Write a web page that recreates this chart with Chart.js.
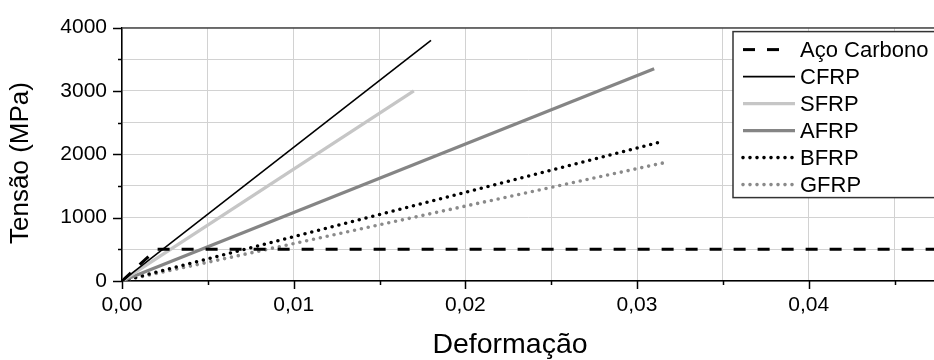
<!DOCTYPE html>
<html>
<head>
<meta charset="utf-8">
<script src="https://cdn.jsdelivr.net/npm/chart.js@4"></script>
<style>
  html, body { margin: 0; padding: 0; background: #fff; overflow: hidden; }
  #wrap { width: 934px; height: 360px; }
</style>
</head>
<body>
<div id="wrap"><canvas id="grafico" width="934" height="360"></canvas></div>
<script>
// valores (deformação x tensão em MPa)
const acoDef = [0, 0.002, 0.048];
const acoTen = [0, 500, 500];
const cfrpDef = [0, 0.018];
const cfrpTen = [0, 3800];
const sfrpDef = [0, 0.017];
const sfrpTen = [0, 3000];
const afrpDef = [0, 0.031];
const afrpTen = [0, 3350];
const bfrpDef = [0, 0.0313];
const bfrpTen = [0, 2190];
const gfrpDef = [0, 0.0318];
const gfrpTen = [0, 1880];

const ticksX = [0, 0.005, 0.01, 0.015, 0.02, 0.025, 0.03, 0.035, 0.04, 0.045];
const ticksY = [0, 500, 1000, 1500, 2000, 2500, 3000, 3500, 4000];

const FONTE = '"Liberation Sans", Arial, sans-serif';

function pontos(xs, ys) {
  return xs.map((x, i) => ({ x: x, y: ys[i] }));
}

function ehMaiorX(v) { return Math.abs(v * 100 - Math.round(v * 100)) < 1e-9; }
function ehMaiorY(v) { return v % 1000 === 0; }

// marcas dos eixos (maiores e menores), moldura superior e títulos
const eixosPlugin = {
  id: 'eixos',
  afterDraw(chart) {
    const ctx = chart.ctx;
    const area = chart.chartArea;
    const sx = chart.scales.x, sy = chart.scales.y;
    ctx.save();
    ctx.strokeStyle = '#000';
    ctx.lineWidth = 1.5;
    ticksX.forEach(v => {
      const px = Math.round(sx.getPixelForValue(v)) + 0.5;
      const len = ehMaiorX(v) ? 8 : 4;
      ctx.beginPath();
      ctx.moveTo(px, area.bottom);
      ctx.lineTo(px, area.bottom + len);
      ctx.stroke();
    });
    ticksY.forEach(v => {
      const py = Math.round(sy.getPixelForValue(v)) + 0.5;
      const len = ehMaiorY(v) ? 9 : 4;
      ctx.beginPath();
      ctx.moveTo(area.left, py);
      ctx.lineTo(area.left - len, py);
      ctx.stroke();
    });
    // linha superior
    ctx.strokeStyle = '#444';
    ctx.beginPath();
    ctx.moveTo(area.left, area.top + 0.5);
    ctx.lineTo(area.right, area.top + 0.5);
    ctx.stroke();

    // títulos
    ctx.fillStyle = '#000';
    ctx.textAlign = 'center';
    ctx.textBaseline = 'middle';
    ctx.font = '28.5px ' + FONTE;
    ctx.fillText('Deformação', 510, 345);
    ctx.font = '26px ' + FONTE;
    ctx.translate(21, 163);
    ctx.rotate(-Math.PI / 2);
    ctx.fillText('Tensão (MPa)', 0, 0);
    ctx.restore();
  }
};

// legenda dentro da área do gráfico
const legendaPlugin = {
  id: 'legendaInterna',
  afterDraw(chart) {
    const ctx = chart.ctx;
    const area = chart.chartArea;
    const x0 = area.right - 201;
    const y0 = area.top + 4;
    ctx.save();
    ctx.fillStyle = '#fff';
    ctx.fillRect(x0, y0, 300, 166);
    ctx.strokeStyle = '#333';
    ctx.lineWidth = 1.5;
    ctx.strokeRect(x0, y0, 300, 166);
    ctx.font = '22px ' + FONTE;
    ctx.textAlign = 'left';
    ctx.textBaseline = 'middle';
    chart.data.datasets.forEach((ds, i) => {
      const cy = y0 + 18 + i * 27;
      const dash = ds.borderDash || [];
      const comp = (dash.length && dash[0] > 0) ? 36 : 52;
      ctx.strokeStyle = ds.borderColor;
      ctx.lineWidth = ds.borderWidth;
      ctx.lineCap = ds.borderCapStyle || 'butt';
      ctx.setLineDash(dash);
      ctx.beginPath();
      ctx.moveTo(x0 + 10, cy);
      ctx.lineTo(x0 + 10 + comp, cy);
      ctx.stroke();
      ctx.setLineDash([]);
      ctx.fillStyle = '#000';
      ctx.fillText(ds.label, x0 + 67, cy + 1);
    });
    ctx.restore();
  }
};

const grafico = document.getElementById('grafico').getContext('2d');

new Chart(grafico, {
  type: 'line',
  data: {
    datasets: [
      { label: 'Aço Carbono', data: pontos(acoDef, acoTen), borderColor: '#000', borderWidth: 3, borderDash: [12, 12] },
      { label: 'CFRP', data: pontos(cfrpDef, cfrpTen), borderColor: '#000', borderWidth: 1.6 },
      { label: 'SFRP', data: pontos(sfrpDef, sfrpTen), borderColor: '#c6c6c6', borderWidth: 3.2 },
      { label: 'AFRP', data: pontos(afrpDef, afrpTen), borderColor: '#858585', borderWidth: 3.2 },
      { label: 'BFRP', data: pontos(bfrpDef, bfrpTen), borderColor: '#000', borderWidth: 3.6, borderDash: [0, 7], borderCapStyle: 'round' },
      { label: 'GFRP', data: pontos(gfrpDef, gfrpTen), borderColor: '#8a8a8a', borderWidth: 3.6, borderDash: [0, 7], borderCapStyle: 'round' }
    ]
  },
  options: {
    responsive: false,
    animation: false,
    layout: { padding: { top: 25, right: 0, left: 0, bottom: 0 } },
    elements: { point: { radius: 0 }, line: { tension: 0 } },
    scales: {
      x: {
        type: 'linear',
        min: 0,
        max: 0.0473,
        afterBuildTicks: s => { s.ticks = ticksX.map(v => ({ value: v })); },
        afterFit: s => { s.height = 79; },
        grid: { color: '#d2d2d2', lineWidth: 1, drawTicks: false },
        border: { color: '#000', width: 1.5 },
        ticks: {
          autoSkip: false,
          maxRotation: 0,
          padding: 12,
          color: '#000',
          font: { family: FONTE, size: 21 },
          callback: v => ehMaiorX(v) ? v.toFixed(2).replace('.', ',') : ''
        }
      },
      y: {
        min: 0,
        max: 4000,
        afterBuildTicks: s => { s.ticks = ticksY.map(v => ({ value: v })); },
        afterFit: s => { s.width = 122; },
        grid: { color: '#d2d2d2', lineWidth: 1, drawTicks: false },
        border: { color: '#000', width: 1.5 },
        ticks: {
          autoSkip: false,
          padding: 15,
          color: '#000',
          font: { family: FONTE, size: 21 },
          callback: v => ehMaiorY(v) ? String(v) : ''
        }
      }
    },
    plugins: {
      legend: { display: false },
      tooltip: { enabled: false }
    }
  },
  plugins: [eixosPlugin, legendaPlugin]
});
</script>
</body>
</html>
